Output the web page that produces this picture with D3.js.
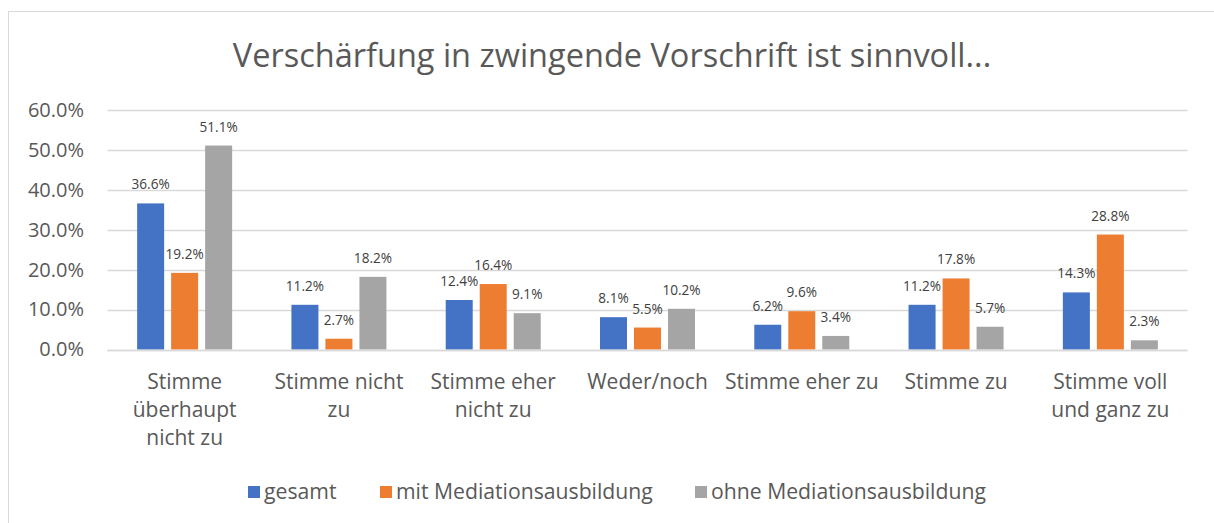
<!DOCTYPE html>
<html><head><meta charset="utf-8">
<script src="https://cdn.jsdelivr.net/npm/d3@7"></script>
<style>body{margin:0;background:#fff;} svg{display:block;font-family:"Open Sans",sans-serif;}</style>
</head><body>
<svg id="c" width="1214" height="523"></svg>
<script>
const title = "Verschärfung in zwingende Vorschrift ist sinnvoll...";
const categories = ["Stimme überhaupt nicht zu","Stimme nicht zu","Stimme eher nicht zu","Weder/noch","Stimme eher zu","Stimme zu","Stimme voll und ganz zu"];
const categoryLines = [["Stimme","überhaupt","nicht zu"],["Stimme nicht","zu"],["Stimme eher","nicht zu"],["Weder/noch"],["Stimme eher zu"],["Stimme zu"],["Stimme voll","und ganz zu"]];
const seriesNames = ["gesamt","mit Mediationsausbildung","ohne Mediationsausbildung"];
const gesamt = [36.6,11.2,12.4,8.1,6.2,11.2,14.3];
const mit = [19.2,2.7,16.4,5.5,9.6,17.8,28.8];
const ohne = [51.1,18.2,9.1,10.2,3.4,5.7,2.3];
const yTicks = [0,10,20,30,40,50,60];
const colors = ["#4472C4","#ED7D31","#A5A5A5"];

const series = [gesamt, mit, ohne];
const svg = d3.select("#c");
const m = {left:107.5, right:1187.5, top:110, bottom:349.5};
const groupW = 95;

svg.append("rect").attr("x",8.5).attr("y",11.5).attr("width",1214).attr("height",520)
  .attr("fill","none").attr("stroke","#D9D9D9");

svg.append("text").attr("x",612).attr("y",67).attr("text-anchor","middle")
  .attr("font-size",32.5).attr("fill","#595959").text(title);

const x = d3.scaleBand().domain(categories).range([m.left,m.right]);
const xs = d3.scaleBand().domain(seriesNames).range([0,groupW]).paddingInner(0.206).paddingOuter(0);
const y = d3.scaleLinear().domain([0,60]).range([m.bottom,m.top]);

// gridlines
svg.append("g").selectAll("line").data(yTicks).join("line")
  .attr("x1",m.left).attr("x2",m.right)
  .attr("y1",d=>Math.round(y(d))+0.5).attr("y2",d=>Math.round(y(d))+0.5)
  .attr("stroke","#D9D9D9").attr("stroke-width",1.5);

// y axis labels
const yAxis = d3.axisLeft(y).tickValues(yTicks).tickFormat(d=>d.toFixed(1)+"%").tickSize(0).tickPadding(0);
const ga = svg.append("g").attr("transform",`translate(84,0)`).call(yAxis);
ga.select(".domain").remove();
ga.selectAll("text").attr("font-size",20).attr("fill","#595959").attr("font-family","'Open Sans',sans-serif");

const groupOffset = (x.bandwidth()-groupW)/2;
series.forEach((vals,si)=>{
  const g = svg.append("g");
  g.selectAll("rect").data(vals).join("rect")
    .attr("x",(d,i)=>x(categories[i])+groupOffset+xs(seriesNames[si]))
    .attr("width",xs.bandwidth())
    .attr("y",d=>y(d)).attr("height",d=>y(0)-y(d))
    .attr("fill",colors[si]);
  g.selectAll("text").data(vals).join("text")
    .attr("x",(d,i)=>x(categories[i])+groupOffset+xs(seriesNames[si])+xs.bandwidth()/2)
    .attr("y",d=>y(d)-14)
    .attr("text-anchor","middle").attr("font-size",13.6).attr("fill","#404040")
    .text(d=>d.toFixed(1)+"%");
});

// baseline over bars
svg.append("line").attr("x1",m.left).attr("x2",m.right).attr("y1",Math.round(y(0))+0.5).attr("y2",Math.round(y(0))+0.5)
  .attr("stroke","#D9D9D9").attr("stroke-width",1.5);

// category labels
categories.forEach((c,i)=>{
  const t = svg.append("text").attr("text-anchor","middle").attr("font-size",21).attr("fill","#595959");
  categoryLines[i].forEach((ln,k)=>{
    t.append("tspan").attr("x",x(c)+x.bandwidth()/2).attr("y",389+k*28).text(ln);
  });
});

// legend
const legendX = [248,380,695];
const lg = svg.append("g");
seriesNames.forEach((n,i)=>{
  lg.append("rect").attr("x",legendX[i]).attr("y",486).attr("width",12).attr("height",12).attr("fill",colors[i]);
  lg.append("text").attr("x",legendX[i]+16).attr("y",499).attr("font-size",21.2).attr("fill","#595959").text(n);
});
</script>
</body></html>
